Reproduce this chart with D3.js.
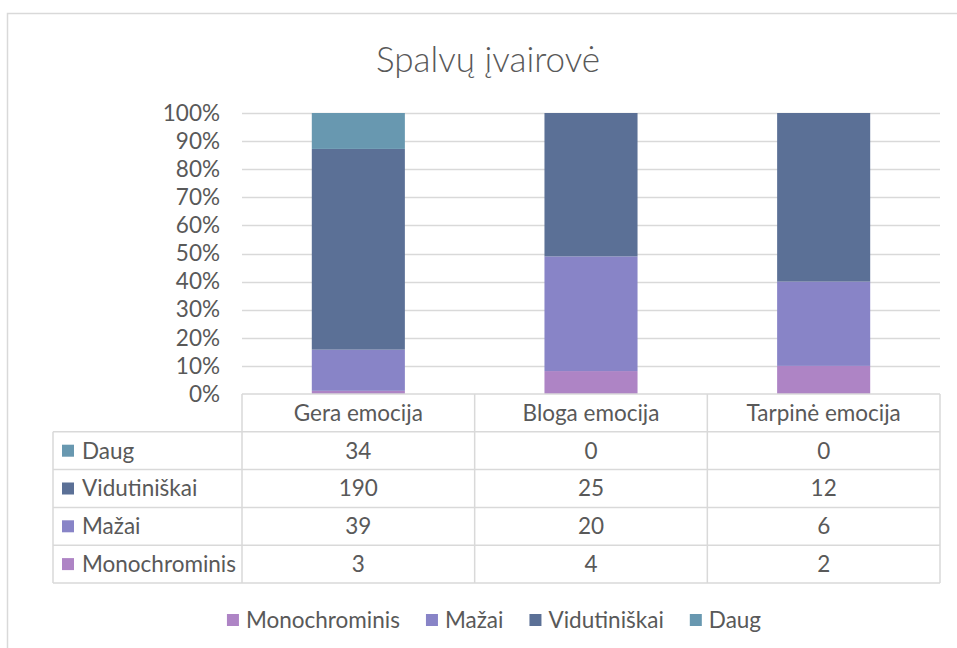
<!DOCTYPE html>
<html>
<head>
<meta charset="utf-8">
<script src="https://cdn.jsdelivr.net/npm/d3@7"></script>
<style>
  html, body { margin: 0; padding: 0; background: #fff; }
  svg { display: block; }
  text { font-family: Lato, "Noto Sans", sans-serif; fill: #595959; }
</style>
</head>
<body>
<svg id="chart" width="957" height="648"></svg>
<script>
// Categories (columns of the table / x axis)
const categories = ["Gera emocija", "Bloga emocija", "Tarpinė emocija"];

// Series, bottom of the stack first
const seriesNames = ["Monochrominis", "Mažai", "Vidutiniškai", "Daug"];
const monochrominis = [3, 4, 2];
const mazai = [39, 20, 6];
const vidutiniskai = [190, 25, 12];
const daug = [34, 0, 0];
const seriesValues = [monochrominis, mazai, vidutiniskai, daug];

const seriesColors = ["#ae84c5", "#8884c7", "#5b7096", "#6898b0"];

// Order of rows in the data table (top to bottom)
const tableOrder = ["Daug", "Vidutiniškai", "Mažai", "Monochrominis"];

const yTicks = [0, 0.1, 0.2, 0.3, 0.4, 0.5, 0.6, 0.7, 0.8, 0.9, 1];

const rows = categories.map((c, i) => {
  const r = { category: c };
  seriesNames.forEach((s, k) => { r[s] = seriesValues[k][i]; });
  return r;
});

const svg = d3.select("#chart");
const gridColor = "#d9d9d9";
const fontSize = 22.5;

// Outer chart frame
svg.append("path")
  .attr("d", "M7.5,660 V13.5 H957")
  .attr("fill", "none")
  .attr("stroke", gridColor)
  .attr("stroke-width", 1.5);

// Title
svg.append("text")
  .attr("x", 488)
  .attr("y", 72)
  .attr("text-anchor", "middle")
  .style("font-size", "35px")
  .style("font-weight", 300)
  .text("Spalvų įvairovė");

// Plot area
const plot = { left: 242, right: 940, top: 113, bottom: 394 };

const x = d3.scaleBand()
  .domain(categories)
  .range([plot.left, plot.right])
  .paddingInner(0)
  .paddingOuter(0);

const barWidth = x.bandwidth() * 0.4;

const y = d3.scaleLinear()
  .domain([0, 1])
  .range([plot.bottom, plot.top]);

// Gridlines
svg.append("g")
  .selectAll("line")
  .data(yTicks.filter(t => t > 0))
  .join("line")
  .attr("x1", plot.left)
  .attr("x2", plot.right)
  .attr("y1", d => Math.round(y(d)) + 0.5)
  .attr("y2", d => Math.round(y(d)) + 0.5)
  .attr("stroke", gridColor)
  .attr("stroke-width", 1.5);

// Y axis labels
const yAxis = d3.axisLeft(y)
  .tickValues(yTicks)
  .tickFormat(d3.format(".0%"))
  .tickSize(0)
  .tickPadding(0);

const yg = svg.append("g")
  .attr("transform", `translate(${220},0)`)
  .call(yAxis);
yg.select(".domain").remove();
yg.selectAll("text")
  .attr("font-family", null)
  .attr("font-size", null)
  .style("font-size", fontSize + "px")
  .style("fill", "#595959");

// Stacked bars (100% stacked)
const stack = d3.stack()
  .keys(seriesNames)
  .offset(d3.stackOffsetExpand);
const stacked = stack(rows);

svg.append("g")
  .selectAll("g")
  .data(stacked)
  .join("g")
  .attr("fill", (d, i) => seriesColors[i])
  .selectAll("rect")
  .data(d => d)
  .join("rect")
  .attr("x", d => x(d.data.category) + (x.bandwidth() - barWidth) / 2)
  .attr("width", barWidth)
  .attr("y", d => y(d[1]))
  .attr("height", d => Math.max(0, y(d[0]) - y(d[1])));

// Data table
const rowH = (583 - 394) / 5;
const tableLeft = 53;
const tableTop = plot.bottom;
const tableBottom = tableTop + rowH * 5;
const tg = svg.append("g");

// Horizontal lines: header row spans the category columns only
tg.append("line")
  .attr("x1", plot.left).attr("x2", plot.right)
  .attr("y1", tableTop).attr("y2", tableTop);
for (let r = 1; r <= 5; r++) {
  tg.append("line")
    .attr("x1", tableLeft).attr("x2", plot.right)
    .attr("y1", tableTop + rowH * r).attr("y2", tableTop + rowH * r);
}
// Vertical lines
tg.append("line")
  .attr("x1", tableLeft).attr("x2", tableLeft)
  .attr("y1", tableTop + rowH).attr("y2", tableBottom);
categories.forEach(c => {
  tg.append("line")
    .attr("x1", x(c)).attr("x2", x(c))
    .attr("y1", tableTop).attr("y2", tableBottom);
});
tg.append("line")
  .attr("x1", plot.right).attr("x2", plot.right)
  .attr("y1", tableTop).attr("y2", tableBottom);
tg.selectAll("line")
  .attr("stroke", gridColor)
  .attr("stroke-width", 1.5);

// Header: category names
tg.selectAll("text.cat")
  .data(categories)
  .join("text")
  .attr("class", "cat")
  .attr("x", d => x(d) + x.bandwidth() / 2)
  .attr("y", tableTop + rowH / 2)
  .attr("dy", "0.35em")
  .attr("text-anchor", "middle")
  .style("font-size", fontSize + "px")
  .text(d => d);

// Body rows
tableOrder.forEach((name, r) => {
  const k = seriesNames.indexOf(name);
  const cy = tableTop + rowH * (r + 1) + rowH / 2;
  tg.append("rect")
    .attr("x", 62).attr("y", cy - 6)
    .attr("width", 12).attr("height", 12)
    .attr("fill", seriesColors[k]);
  tg.append("text")
    .attr("x", 82).attr("y", cy)
    .attr("dy", "0.35em")
    .style("font-size", fontSize + "px")
    .text(name);
  categories.forEach((c, i) => {
    tg.append("text")
      .attr("x", x(c) + x.bandwidth() / 2)
      .attr("y", cy)
      .attr("dy", "0.35em")
      .attr("text-anchor", "middle")
      .style("font-size", fontSize + "px")
      .text(seriesValues[k][i]);
  });
});

// Legend, centred below the table
const legend = svg.append("g");
const items = legend.selectAll("g")
  .data(seriesNames)
  .join("g");
items.append("rect")
  .attr("width", 12).attr("height", 12)
  .attr("y", -6)
  .attr("fill", (d, i) => seriesColors[i]);
items.append("text")
  .attr("x", 19)
  .attr("dy", "0.35em")
  .style("font-size", fontSize + "px")
  .text(d => d);
let cursor = 0;
items.each(function () {
  const w = 19 + d3.select(this).select("text").node().getComputedTextLength();
  d3.select(this).attr("transform", `translate(${cursor},0)`);
  cursor += w + 26;
});
const legendWidth = cursor - 26;
legend.attr("transform", `translate(${494 - legendWidth / 2},620)`);
</script>
</body>
</html>
